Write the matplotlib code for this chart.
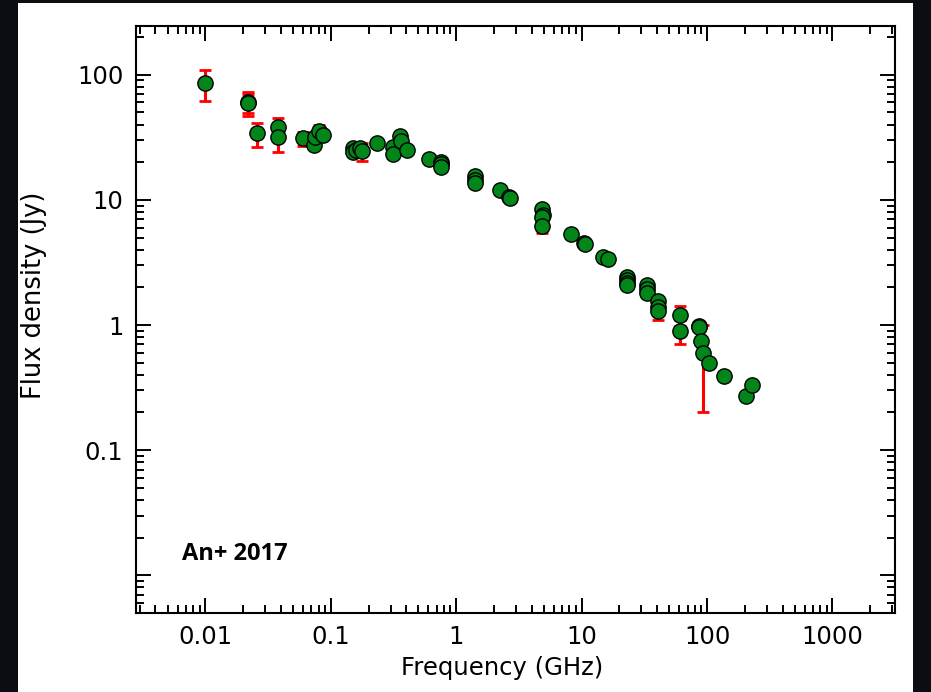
import matplotlib
matplotlib.use('Agg')
from matplotlib import pyplot as plt
from matplotlib.patches import Rectangle
from matplotlib.ticker import FixedLocator, FixedFormatter, LogLocator, NullFormatter

plt.rcParams['font.family'] = ['DejaVu Sans']

# measured points: frequency (GHz), flux density (Jy)
freq = [0.01, 0.022, 0.022, 0.026, 0.038, 0.038, 0.06, 0.074, 0.075, 0.08, 0.086,
        0.15, 0.15, 0.16, 0.17, 0.178, 0.232, 0.315, 0.315, 0.356, 0.36, 0.402,
        0.605, 0.75, 0.75, 0.75, 1.4, 1.4, 1.4, 2.23, 2.65, 2.7,
        4.8, 4.9, 4.85, 4.8, 8.2, 10.4, 10.7, 14.7, 16.3,
        22.9, 22.9, 22.9, 23.0, 33.0, 33.0, 33.0, 40.8, 40.8, 40.8,
        60.8, 60.8, 86.0, 87.0, 89.0, 93.0, 104.0, 136.0, 203.0, 230.0]
flux = [86, 60, 59.5, 34, 38.5, 32, 31, 27.2, 31.5, 35.8, 33,
        25.8, 24, 25, 26, 24.5, 28.4, 26.4, 23.2, 32.6, 29.4, 25,
        21.2, 20.0, 19.3, 18.4, 15.4, 14.5, 13.6, 12.0, 10.5, 10.3,
        8.5, 7.5, 7.3, 6.2, 5.35, 4.55, 4.4, 3.5, 3.35,
        2.4, 2.3, 2.15, 2.07, 2.1, 1.95, 1.8, 1.55, 1.4, 1.3,
        1.2, 0.9, 0.99, 0.97, 0.75, 0.6, 0.5, 0.39, 0.27, 0.334]

# the ones with error bars
efreq = [0.01, 0.022, 0.022, 0.026, 0.038, 0.038, 0.06, 0.08, 0.178, 4.8, 40.8, 60.8, 60.8, 93.0]
eflux = [86, 60, 59.5, 34, 38.5, 32, 31, 35.8, 24.5, 6.2, 1.3, 1.2, 0.9, 0.6]
eerr = [24, 13, 10, 7.5, 7, 8, 4, 4, 4, 0.8, 0.2, 0.22, 0.19, 0.4]

xticks = [0.01, 0.1, 1, 10, 100, 1000]
xlabels = ['0.01', '0.1', '1', '10', '100', '1000']
yticks = [0.01, 0.1, 1, 10, 100]
ylabels = ['', '0.1', '1', '10', '100']

fig = plt.figure(figsize=(9.31, 6.92), dpi=100)
fig.patch.set_facecolor('#0c0d12')
fig.patches.append(Rectangle((18/931, 0), (913-18)/931, 1 - 3/692,
                             transform=fig.transFigure, facecolor='white',
                             edgecolor='none', zorder=-10))

ax = fig.add_axes([136/931, 79/692, (895-136)/931, (613-26)/692])
ax.set_xscale('log')
ax.set_yscale('log')

ax.errorbar(efreq, eflux, yerr=eerr, fmt='none', ecolor='red', elinewidth=2.2,
            capsize=4, capthick=2, zorder=2)
ax.plot(freq, flux, 'o', color='#038619', markeredgecolor='black',
        markeredgewidth=1.0, markersize=11, zorder=3)

ax.set_xlim(0.0028, 3150)
ax.set_ylim(0.005, 245)

ax.xaxis.set_major_locator(FixedLocator(xticks))
ax.xaxis.set_major_formatter(FixedFormatter(xlabels))
ax.yaxis.set_major_locator(FixedLocator(yticks))
ax.yaxis.set_major_formatter(FixedFormatter(ylabels))
for a in (ax.xaxis, ax.yaxis):
    a.set_minor_locator(LogLocator(base=10, subs=range(2, 10), numticks=20))
    a.set_minor_formatter(NullFormatter())

ax.tick_params(which='both', direction='in', top=True, right=True, width=1.4, colors='black')
ax.tick_params(which='major', length=11, labelsize=17.5, pad=9)
ax.tick_params(which='minor', length=5.5)
for s in ax.spines.values():
    s.set_linewidth(1.5)

ax.set_xlabel('Frequency (GHz)', fontsize=17.5)
ax.set_ylabel('Flux density (Jy)', fontsize=18.5)
ax.xaxis.set_label_coords(0.482, -0.073)
ax.yaxis.set_label_coords(-0.117, 0.542)

ax.text(0.06, 0.09, 'An+ 2017', transform=ax.transAxes, fontsize=17,
        fontweight='bold', family=['Open Sans', 'DejaVu Sans'])

fig.savefig('out.png', dpi=100, facecolor=fig.get_facecolor())
